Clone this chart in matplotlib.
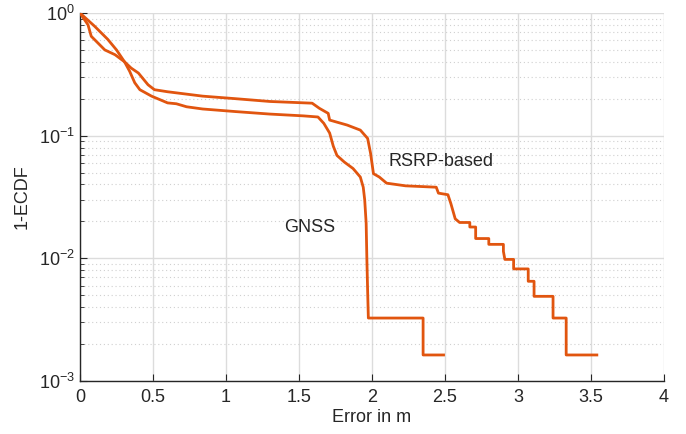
import matplotlib
matplotlib.use("Agg")
import matplotlib.pyplot as plt
from matplotlib.ticker import LogLocator, NullFormatter

# 1-ECDF curves (error in m, probability)
gnss_x = [0, 0.055, 0.077, 0.17, 0.24, 0.305, 0.34, 0.375, 0.41, 0.49,
          0.60, 0.66, 0.73, 0.84, 1.07, 1.30, 1.53, 1.63, 1.67, 1.71, 1.735,
          1.76, 1.81, 1.87, 1.92, 1.94, 1.95, 1.96, 1.965, 1.97, 1.975,
          2.35, 2.35, 2.49]
gnss_y = [1, 0.80, 0.646, 0.50, 0.457, 0.40, 0.335, 0.27, 0.237, 0.21,
          0.185, 0.182, 0.172, 0.165, 0.157, 0.150, 0.145, 0.142, 0.126, 0.105, 0.082,
          0.069, 0.061, 0.054, 0.046, 0.038, 0.030, 0.0193, 0.0097, 0.0055, 0.00326,
          0.00326, 0.00163, 0.00163]

rsrp_x = [0, 0.10, 0.19, 0.25, 0.305, 0.35, 0.40, 0.466, 0.51, 0.60, 0.84, 1.07, 1.30,
          1.59, 1.64, 1.70, 1.71, 1.83, 1.92, 1.97, 1.99, 2.01, 2.05, 2.10, 2.23,
          2.44, 2.455, 2.52, 2.54, 2.57, 2.60, 2.67, 2.67, 2.71, 2.71, 2.80, 2.80,
          2.90, 2.90, 2.91, 2.97, 2.97, 3.07, 3.07, 3.11, 3.11, 3.24, 3.24,
          3.33, 3.33, 3.54]
rsrp_y = [1, 0.78, 0.61, 0.50, 0.40, 0.356, 0.324, 0.26, 0.237, 0.228, 0.21, 0.20, 0.19,
          0.184, 0.167, 0.152, 0.134, 0.122, 0.111, 0.095, 0.072, 0.049, 0.046, 0.041, 0.039,
          0.038, 0.034, 0.033, 0.028, 0.021, 0.0196, 0.0196, 0.018, 0.018, 0.0145, 0.0145, 0.013,
          0.013, 0.0114, 0.0098, 0.0098, 0.0082, 0.0082, 0.0065, 0.0065, 0.0049, 0.0049, 0.00326,
          0.00326, 0.00163, 0.00163]

plt.rcParams["font.family"] = ["Liberation Sans", "DejaVu Sans"]
plt.rcParams["mathtext.default"] = "regular"
plt.rcParams["font.size"] = 13

line_color = "#E1550F"
axis_color = "#262626"

fig = plt.figure(figsize=(6.86, 4.34), dpi=100)
ax = fig.add_axes([80 / 686, 1 - 381 / 434, 584 / 686, 368 / 434])

ax.plot(gnss_x, gnss_y, color=line_color, lw=2.0, zorder=3)
ax.plot(rsrp_x, rsrp_y, color=line_color, lw=2.0, zorder=3)

ax.set_yscale("log")
ax.set_xlim(0, 4)
ax.set_ylim(1e-3, 1)
ax.set_xticks([0, 0.5, 1, 1.5, 2, 2.5, 3, 3.5, 4])
ax.set_xticklabels(["0", "0.5", "1", "1.5", "2", "2.5", "3", "3.5", "4"])
ax.yaxis.set_major_locator(LogLocator(base=10, numticks=10))
ax.yaxis.set_minor_locator(LogLocator(base=10, subs=range(2, 10), numticks=20))
ax.yaxis.set_minor_formatter(NullFormatter())

ax.grid(True, which="major", color="#dcdcdc", lw=1.0)
ax.grid(True, which="minor", axis="y", color="#d0d0d0", lw=0.8, linestyle=(0, (1, 2.5)))
ax.set_axisbelow(True)

for side in ["top", "right"]:
    ax.spines[side].set_visible(False)
for side in ["left", "bottom"]:
    ax.spines[side].set_color(axis_color)
    ax.spines[side].set_linewidth(1.0)

ax.tick_params(which="both", direction="in", colors=axis_color, labelcolor=axis_color)
ax.tick_params(which="major", length=5)
ax.tick_params(which="minor", length=3)
ax.tick_params(axis="x", pad=6)

ax.set_xlabel("Error in m", color=axis_color, labelpad=2)
ax.set_ylabel("1-ECDF", color=axis_color, labelpad=6)

ax.text(2.47, 0.061, "RSRP-based", ha="center", va="center", color=axis_color)
ax.text(1.57, 0.018, "GNSS", ha="center", va="center", color=axis_color)

fig.savefig("out.png", dpi=100)
